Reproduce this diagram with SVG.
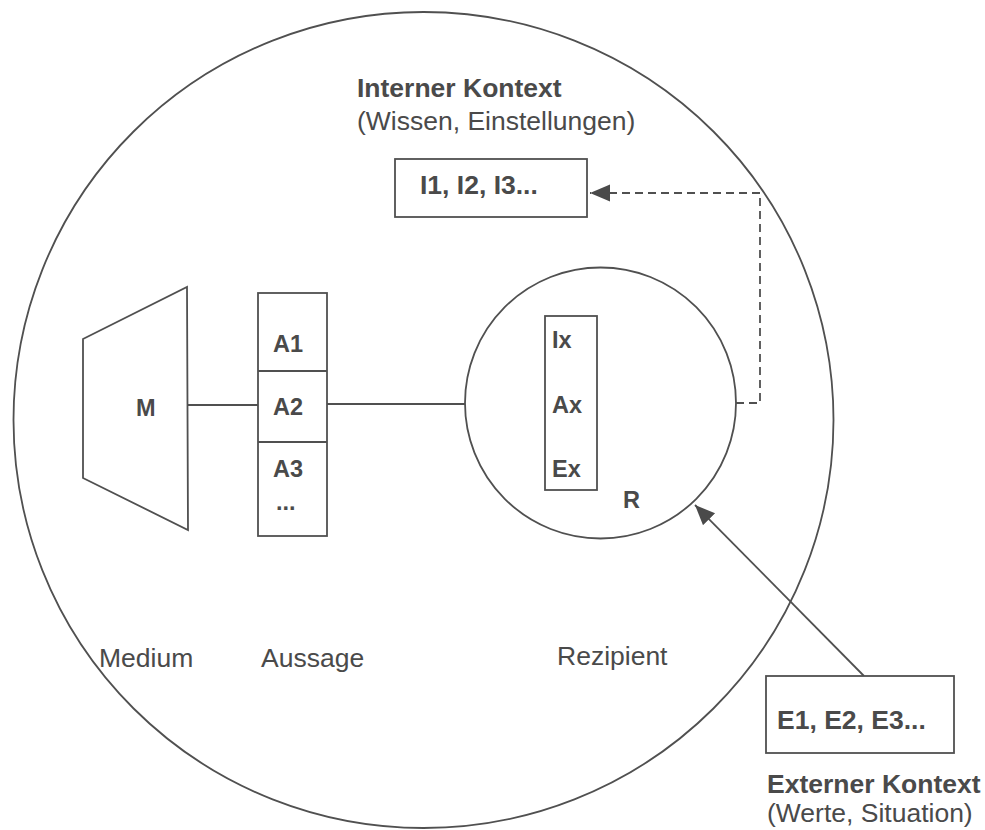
<svg xmlns="http://www.w3.org/2000/svg" width="985" height="830" viewBox="0 0 985 830">
<defs>
<style>
.ln{fill:none;stroke:#505050;stroke-width:1.8}
.bx{fill:#ffffff;stroke:#505050;stroke-width:1.8}
.dash{fill:none;stroke:#505050;stroke-width:1.8;stroke-dasharray:8 5}
.t{font-family:"Liberation Sans",Arial,Helvetica,sans-serif;fill:#4a4a4a}
.big{font-size:26.5px}
.sm{font-size:23.5px;font-weight:bold}
.b{font-weight:bold}
</style>
<marker id="ah" markerUnits="userSpaceOnUse" markerWidth="22" markerHeight="18" refX="20" refY="8.5" orient="auto">
<path d="M0,0 L20,8.5 L0,17 z" fill="#4a4a4a"/>
</marker>
</defs>
<rect width="985" height="830" fill="#ffffff"/>

<g id="kontext">
<ellipse class="ln" cx="423.5" cy="420" rx="410" ry="408"/>
</g>

<g id="connectors">
<line class="ln" x1="188" y1="405" x2="258" y2="405"/>
<line class="ln" x1="327" y1="404" x2="465" y2="404"/>
<polyline class="dash" points="736,403 760,403 760,193 590,193" marker-end="url(#ah)"/>
<line class="ln" x1="864" y1="676" x2="695" y2="505" marker-end="url(#ah)"/>
</g>

<g id="medium">
<polygon class="bx" points="83,339 187,287 188,530 83,478"/>
<text class="t sm" x="136" y="416">M</text>
<text class="t big" x="99" y="667">Medium</text>
</g>

<g id="aussage">
<rect class="bx" x="258" y="293" width="69" height="243"/>
<line class="ln" x1="258" y1="371" x2="327" y2="371"/>
<line class="ln" x1="258" y1="442" x2="327" y2="442"/>
<text class="t sm" x="273" y="352">A1</text>
<text class="t sm" x="273" y="415">A2</text>
<text class="t sm" x="273" y="477">A3</text>
<text class="t sm" x="276" y="510">...</text>
<text class="t big" x="261" y="667">Aussage</text>
</g>

<g id="rezipient">
<circle class="bx" cx="600.5" cy="403" r="135.5"/>
<rect class="bx" x="545" y="316" width="52" height="174"/>
<text class="t sm" x="552" y="348">Ix</text>
<text class="t sm" x="552" y="413">Ax</text>
<text class="t sm" x="552" y="477">Ex</text>
<text class="t sm" x="623" y="508">R</text>
<text class="t big" x="557" y="665">Rezipient</text>
</g>

<g id="interner-kontext">
<text class="t big b" x="357" y="97">Interner Kontext</text>
<text class="t big" x="357" y="130">(Wissen, Einstellungen)</text>
<rect class="bx" x="395" y="159" width="192" height="58"/>
<text class="t big b" x="420" y="194">I1, I2, I3...</text>
</g>

<g id="externer-kontext">
<rect class="bx" x="766" y="676" width="188" height="77"/>
<text class="t big b" x="777" y="729">E1, E2, E3...</text>
<text class="t big b" x="767" y="793">Externer Kontext</text>
<text class="t big" x="767" y="822">(Werte, Situation)</text>
</g>
</svg>
